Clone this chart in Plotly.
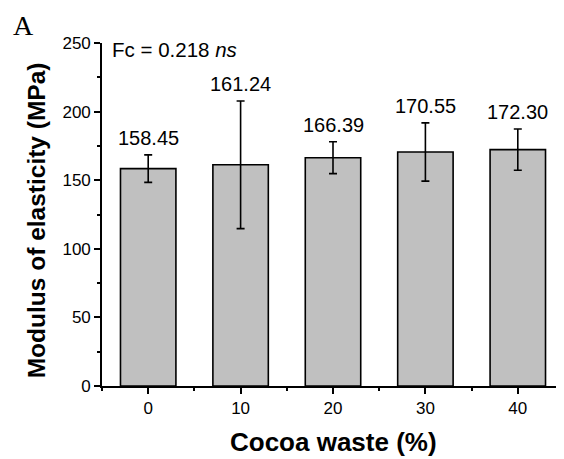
import plotly.graph_objects as go

categories = ["0", "10", "20", "30", "40"]
means = [158.45, 161.24, 166.39, 170.55, 172.30]
errors = [10.0, 46.5, 11.6, 21.2, 15.0]
labels = ["158.45", "161.24", "166.39", "170.55", "172.30"]
y_ticks = [0, 50, 100, 150, 200, 250]

xpos = list(range(len(categories)))
minor_x = [i - 0.5 for i in xpos] + [xpos[-1] + 0.5]

FONT = "Liberation Sans, Arial, sans-serif"

fig = go.Figure()
fig.add_trace(go.Bar(
    x=xpos, y=means, width=0.6,
    marker=dict(color="#c0c0c0", line=dict(color="black", width=1.6)),
    error_y=dict(type="data", array=errors, visible=True, color="black",
                 thickness=1.6, width=4),
    hoverinfo="skip",
))

for x, m, e, t in zip(xpos, means, errors, labels):
    fig.add_annotation(x=x, y=m + e, text=t, showarrow=False,
                       xanchor="center", yanchor="bottom", yshift=4,
                       font=dict(family=FONT, size=20, color="black"))

fig.add_annotation(xref="paper", yref="paper", x=0.017, y=0.980,
                   text="Fc = 0.218 <i>ns</i>", showarrow=False,
                   xanchor="left", yanchor="middle",
                   font=dict(family=FONT, size=20.5, color="black"))

fig.add_annotation(xref="paper", yref="paper", x=-0.169, y=1.051,
                   text="A", showarrow=False, xanchor="center", yanchor="middle",
                   font=dict(family="Liberation Serif, Times New Roman, serif",
                             size=28, color="black"))

fig.add_annotation(xref="paper", yref="paper", x=0.5, y=-0.162,
                   text="<b>Cocoa waste (%)</b>", showarrow=False,
                   xanchor="center", yanchor="middle",
                   font=dict(family=FONT, size=26, color="black"))

fig.add_annotation(xref="paper", yref="paper", x=-0.140, y=0.484,
                   text="<b>Modulus of elasticity (MPa)</b>", showarrow=False,
                   textangle=-90, xanchor="center", yanchor="middle",
                   font=dict(family=FONT, size=24.5, color="black"))

# page body has an 8px default margin; compensate so the plot lands where the reference has it
fig.update_layout(
    width=564, height=459,
    margin=dict(l=94, r=8, t=35, b=81),
    plot_bgcolor="white", paper_bgcolor="white",
    showlegend=False,
)
fig.update_xaxes(
    range=[-0.5, 4.5], tickmode="array", tickvals=xpos, ticktext=categories,
    showline=True, linecolor="black", linewidth=1.6, showgrid=False, zeroline=False,
    ticks="outside", ticklen=6, tickwidth=1.6, tickcolor="black",
    tickfont=dict(family=FONT, size=17, color="black"),
    minor=dict(tickmode="array", tickvals=minor_x, ticks="outside", ticklen=3,
               tickwidth=1.6, tickcolor="black", showgrid=False),
    fixedrange=True,
)
fig.update_yaxes(
    range=[0, 250], tickmode="array", tickvals=y_ticks,
    showline=True, linecolor="black", linewidth=1.6, showgrid=False, zeroline=False,
    ticks="outside", ticklen=6, tickwidth=1.6, tickcolor="black",
    tickfont=dict(family=FONT, size=17, color="black"),
    minor=dict(dtick=25, tick0=0, ticks="outside", ticklen=3, tickwidth=1.6,
               tickcolor="black", showgrid=False),
    fixedrange=True,
)

fig.write_html("out.html")
